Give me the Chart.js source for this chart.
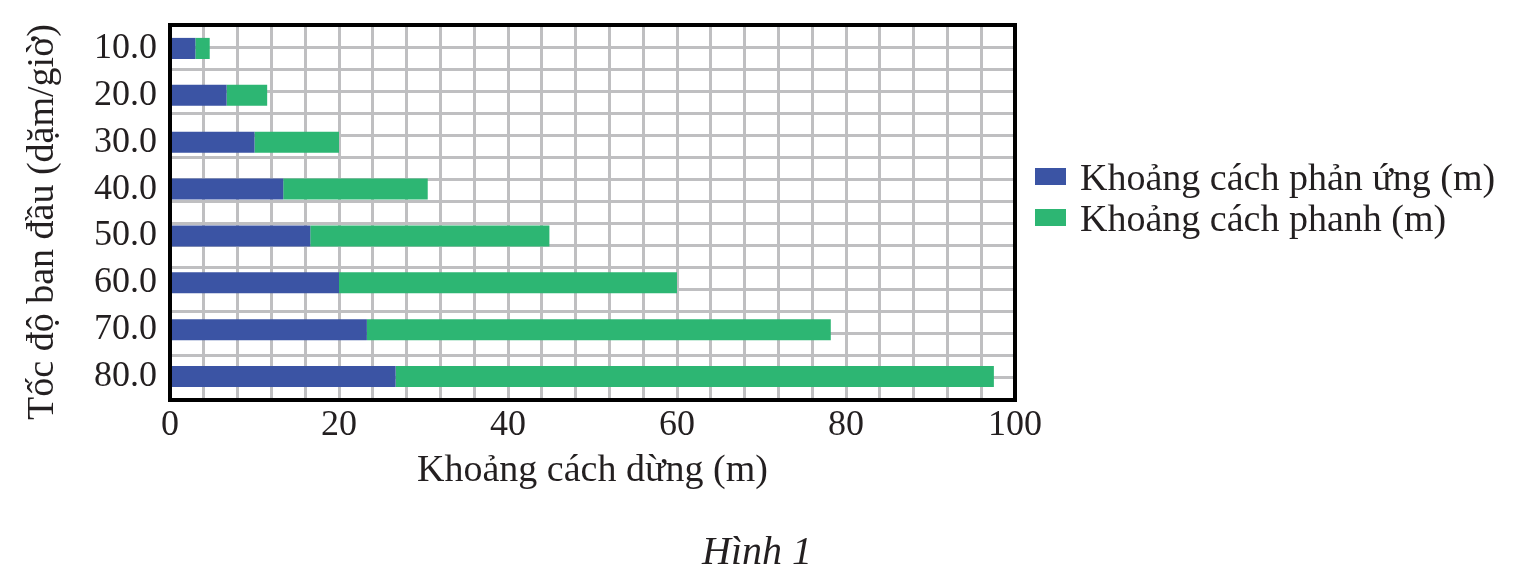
<!DOCTYPE html>
<html lang="vi">
<head>
<meta charset="utf-8">
<script src="https://cdn.jsdelivr.net/npm/chart.js@4.4.1/dist/chart.umd.min.js"></script>
<style>
  html, body { margin: 0; padding: 0; background: #fff; }
  #khung { position: relative; width: 1514px; height: 585px; }
  #chu-thich {
    position: absolute; left: 1035px; top: 156px;
    font-family: 'Liberation Serif', 'Times New Roman', serif;
    font-size: 38px; color: #231f20;
  }
  #chu-thich .dong { display: flex; align-items: center; height: 41px; white-space: nowrap; }
  #chu-thich .o { display: inline-block; width: 31px; height: 17px; margin-right: 14px; }
</style>
</head>
<body>
<div id="khung">
  <canvas id="bieu-do"></canvas>
  <div id="chu-thich"></div>
</div>
<script>
// Dữ liệu
const tocDo = ['10.0', '20.0', '30.0', '40.0', '50.0', '60.0', '70.0', '80.0'];
const phanUng = [3.0, 6.7, 10.0, 13.4, 16.6, 20.0, 23.3, 26.7];
const phanh = [1.7, 4.8, 10.0, 17.1, 28.3, 40.0, 54.9, 70.8];
const nhanTrucX = [0, 20, 40, 60, 80, 100];

const chu = "'Liberation Serif', 'Times New Roman', serif";
const mauChu = '#231f20';
const mauLuoi = '#bfbfc1';

// khung đen quanh vùng vẽ
const khungDen = {
    id: 'khungDen',
    afterDatasetsDraw(chart) {
        const { ctx, chartArea: a } = chart;
        ctx.save();
        ctx.strokeStyle = '#000';
        ctx.lineWidth = 4;
        ctx.strokeRect(a.left, a.top, a.right - a.left, a.bottom - a.top);
        ctx.restore();
    }
};

const bieuDo = new Chart(document.getElementById('bieu-do').getContext('2d'), {
    type: 'bar',
    data: {
        labels: tocDo,
        datasets: [{
            label: 'Khoảng cách phản ứng (m)',
            data: phanUng,
            backgroundColor: '#3b54a4',
        }, {
            label: 'Khoảng cách phanh (m)',
            data: phanh,
            backgroundColor: '#2db673',
        }]
    },
    options: {
        indexAxis: 'y',
        responsive: true,
        maintainAspectRatio: false,
        animation: false,
        barPercentage: 0.45,
        categoryPercentage: 1,
        layout: { padding: { top: 25, left: 0, bottom: 8, right: 0 } },
        scales: {
            x: {
                type: 'linear',
                stacked: true,
                min: 0,
                max: 100,
                grid: { color: mauLuoi, lineWidth: 3, drawTicks: false },
                border: { display: false },
                ticks: {
                    stepSize: 4,
                    autoSkip: false,
                    maxRotation: 0,
                    padding: 4,
                    color: mauChu,
                    font: { family: chu, size: 36 },
                    callback: v => nhanTrucX.includes(v) ? v : ''
                },
                title: {
                    display: true,
                    text: 'Khoảng cách dừng (m)',
                    color: mauChu,
                    font: { family: chu, size: 38 },
                    padding: { top: 0, bottom: 35 }
                },
                afterFit: s => { s.height = 129; }
            },
            y: {
                type: 'category',
                stacked: true,
                grid: { display: false },
                border: { display: false },
                ticks: {
                    autoSkip: false,
                    color: mauChu,
                    font: { family: chu, size: 36, lineHeight: 0.6 },
                    padding: 5
                },
                title: {
                    display: true,
                    text: 'Tốc độ ban đầu (dặm/giờ)\u00a0\u00a0',
                    color: mauChu,
                    font: { family: chu, size: 38 },
                    padding: { top: 20, bottom: 0 }
                },
                afterFit: s => { s.width = 170; }
            },
            y2: {
                type: 'linear',
                position: 'right',
                min: 0,
                max: 16,
                grid: { color: mauLuoi, lineWidth: 3, drawTicks: false },
                border: { display: false },
                ticks: { display: false, stepSize: 1 },
                afterFit: s => { s.width = 499; }
            }
        },
        plugins: {
            legend: { display: false },
            title: {
                display: true,
                position: 'bottom',
                text: 'Hình 1',
                color: mauChu,
                font: { family: chu, size: 40, style: 'italic', weight: 'normal' },
                padding: 0
            },
            tooltip: { enabled: false }
        }
    },
    plugins: [khungDen]
});

// chú thích dựng từ các bộ dữ liệu của biểu đồ
const chuThich = document.getElementById('chu-thich');
bieuDo.data.datasets.forEach(ds => {
    const dong = document.createElement('div');
    dong.className = 'dong';
    const o = document.createElement('span');
    o.className = 'o';
    o.style.background = ds.backgroundColor;
    dong.appendChild(o);
    dong.appendChild(document.createTextNode(ds.label));
    chuThich.appendChild(dong);
});
</script>
</body>
</html>
